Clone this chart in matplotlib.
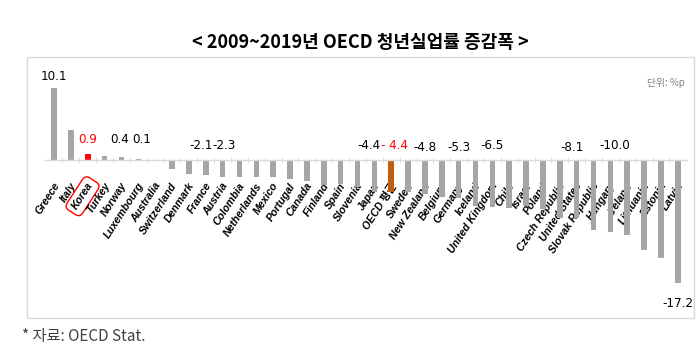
import matplotlib
matplotlib.use("Agg")
import matplotlib.pyplot as plt
from matplotlib import font_manager
from matplotlib.patches import Rectangle
from matplotlib.transforms import ScaledTranslation

# 2009~2019 youth unemployment rate change (%p), OECD countries
countries = ["Greece", "Italy", "Korea", "Turkey", "Norway", "Luxembourg",
             "Australia", "Switzerland", "Denmark", "France", "Austria",
             "Colombia", "Netherlands", "Mexico", "Portugal", "Canada",
             "Finland", "Spain", "Slovenia", "Japan", "OECD 평균", "Sweden",
             "New Zealand", "Belgium", "Germany", "Iceland", "United Kingdom",
             "Chile", "Israel", "Poland", "Czech Republic", "United States",
             "Slovak Republic", "Hungary", "Ireland", "Lithuania", "Estonia",
             "Latvia"]
values = [10.1, 4.2, 0.9, 0.6, 0.4, 0.1,
          -0.2, -1.2, -1.9, -2.1, -2.3,
          -2.3, -2.3, -2.4, -2.7, -2.9,
          -3.5, -3.3, -3.8, -4.4, -4.4, -4.4,
          -4.8, -5.2, -5.3, -6.4, -6.5,
          -6.7, -6.4, -6.8, -8.1, -8.1,
          -9.7, -10.0, -10.5, -12.6, -13.7,
          -17.2]

# value labels shown on the chart: country -> text
shown = {"Greece": "10.1", "Korea": "0.9", "Norway": "0.4", "Luxembourg": "0.1",
         "France": "-2.1", "Austria": "-2.3", "Japan": "-4.4", "OECD 평균": "- 4.4",
         "New Zealand": "-4.8", "Germany": "-5.3", "United Kingdom": "-6.5",
         "United States": "-8.1", "Hungary": "-10.0", "Latvia": "-17.2"}
# where each label sits (data units), layout only
label_y = {"Greece": 11.7, "Korea": 2.8, "Norway": 2.8, "Luxembourg": 2.8,
           "France": 2.1, "Austria": 2.1, "Japan": 2.0, "OECD 평균": 2.0,
           "New Zealand": 1.7, "Germany": 1.8, "United Kingdom": 2.1,
           "United States": 1.8, "Hungary": 2.1, "Latvia": -20.0}
label_dx = {"Norway": -0.1, "Luxembourg": 0.2, "France": -0.25, "Austria": 0.1,
            "Japan": -0.35, "OECD 평균": 0.2, "United States": -0.25,
            "Hungary": 0.25}

GRAY = "#a6a6a6"
RED = "#ff0000"
ORANGE = "#c55a11"
LINE = "#d9d9d9"


def narrow_font():
    """Pick the narrowest installed sans face for the number labels."""
    ttf = font_manager.fontManager.ttflist
    if any(f.name == "Liberation Sans Narrow" for f in ttf):
        return dict(family="Liberation Sans Narrow"), 10
    for fam in ("DejaVu Sans", "Noto Sans", "Open Sans", "Roboto"):
        if any(f.name == fam and "condensed" in str(f.stretch) for f in ttf):
            return dict(family=fam, fontstretch="condensed"), 9.5
    return dict(family="Liberation Sans"), 8.5


NUMFONT, NUMSIZE = narrow_font()

fig = plt.figure(figsize=(6.99, 3.64), dpi=100)
ax = fig.add_axes([0.064, 0.127, 0.919, 0.709])

x = list(range(len(countries)))
colors = []
for c in countries:
    if c == "Korea":
        colors.append(RED)
    elif c.startswith("OECD"):
        colors.append(ORANGE)
    else:
        colors.append(GRAY)

ax.bar(x, values, width=0.33, color=colors, zorder=2)

ax.set_xlim(-0.55, len(countries) - 0.45)
ax.set_ylim(-22, 14)

for s in ["top", "right", "left"]:
    ax.spines[s].set_visible(False)
ax.spines["bottom"].set_position(("data", 0))
ax.spines["bottom"].set_color(LINE)
ax.spines["bottom"].set_linewidth(1.0)
ax.set_yticks([])

ax.set_xticks(x)
ax.set_xticks([i + 0.5 for i in x[:-1]], minor=True)
ax.tick_params(axis="x", which="major", length=0, pad=17)
ax.tick_params(axis="x", which="minor", length=4, direction="inout", color=LINE)
ax.set_xticklabels(countries, rotation=57, ha="right", va="center",
                   rotation_mode="anchor", fontsize=7.7,
                   fontweight="bold", fontstyle="italic",
                   family=["Liberation Sans", "Noto Sans CJK KR"])
# nudge the names a little to the right, like the original
nudge = ScaledTranslation(3 / 100, 0, fig.dpi_scale_trans)
for lab in ax.get_xticklabels():
    lab.set_transform(lab.get_transform() + nudge)
    lab.set_zorder(3)
    if lab.get_text() == "Korea":
        lab.set_bbox(dict(boxstyle="round,pad=0.4,rounding_size=0.5",
                          facecolor="none", edgecolor=RED, linewidth=1.0))

for i, c in enumerate(countries):
    if c in shown:
        col = RED if c == "Korea" or c.startswith("OECD") else "black"
        ax.text(i + label_dx.get(c, 0), label_y[c], shown[c], ha="center",
                va="center", fontsize=NUMSIZE, color=col, **NUMFONT)

# outer frame of the chart area
fig.patches.append(Rectangle((27 / 699, 1 - 318 / 364), (694 - 27) / 699,
                             (318 - 57) / 364, transform=fig.transFigure,
                             fill=False, edgecolor=LINE, linewidth=1.0))

fig.text(0.515, 1 - 42 / 364, "< 2009~2019년 OECD 청년실업률 증감폭 >",
         ha="center", va="center", fontsize=13, fontweight="bold",
         family=["Noto Sans CJK KR", "DejaVu Sans"])
fig.text(666 / 699, 1 - 83 / 364, "단위: %p", ha="center", va="center",
         fontsize=7, color="#7f7f7f", family=["Noto Sans CJK KR", "DejaVu Sans"])
fig.text(22 / 699, 1 - 337 / 364, "* 자료: OECD Stat.", ha="left", va="center",
         fontsize=11, color="#404040", family=["Noto Sans CJK KR", "DejaVu Sans"])

fig.savefig("out.png", dpi=100)
